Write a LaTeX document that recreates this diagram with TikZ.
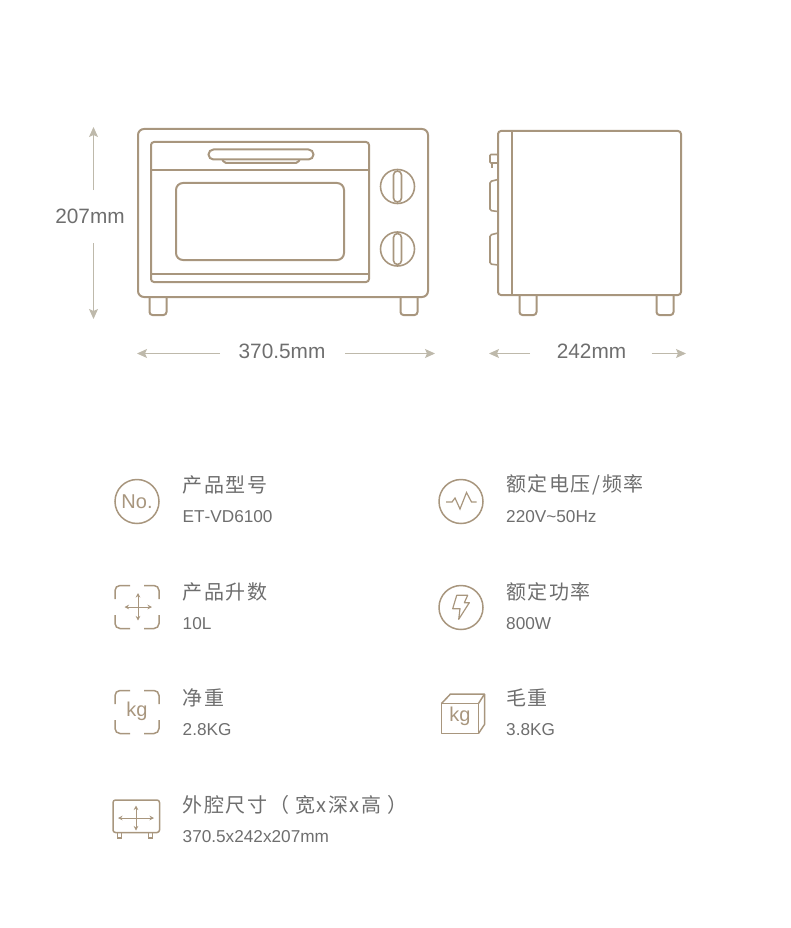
\documentclass[tikz,border=0pt]{standalone}
\usepackage{fontspec}
\setmainfont{Liberation Sans}
\newfontfamily\cjk{Noto Sans CJK SC}
\usetikzlibrary{arrows.meta}
\definecolor{linebrown}{HTML}{A8967E}
\definecolor{dimgray}{HTML}{BEB9AB}
\definecolor{textgray}{HTML}{6E6E6E}

\begin{document}
\begin{tikzpicture}[
  x=1pt,y=-1pt,
  oven/.style={draw=linebrown,line width=2pt},
  icon/.style={draw=linebrown,line width=1.5pt},
  thin icon/.style={draw=linebrown,line width=1pt,{Stealth[length=4.5pt,width=4.5pt]}-{Stealth[length=4.5pt,width=4.5pt]}},
  dim/.style={draw=dimgray,line width=1pt,-{Stealth[length=10pt,width=9pt,inset=2pt]}},
  dim text/.style={text=textgray,font=\fontsize{20.8}{21}\selectfont},
  title/.style={anchor=west,inner sep=0pt,text=textgray,font=\cjk\fontsize{20}{20}\selectfont},
  value/.style={anchor=west,inner sep=0pt,text=textgray,font=\fontsize{17.2}{17}\selectfont},
  icon text/.style={text=linebrown,inner sep=0pt,font=\fontsize{20}{20}\selectfont},
]
  \useasboundingbox (0,0) rectangle (790,928);
  % front of the oven
  \draw [oven,rounded corners=6pt] (138,129) rectangle (428,297);
  \draw [oven,rounded corners=3pt] (151,142) rectangle (369,282);
  \draw [oven] (151,170) -- (369,170);
  \draw [oven] (151,274) -- (369,274);
  \draw [oven,rounded corners=5pt] (208.5,149.5) rectangle (313.5,159.5);
  \draw [oven,rounded corners=2pt] (222.5,159.5) -- (224,163) -- (298,163) -- (299.5,159.5);
  \draw [oven,rounded corners=7pt] (176,183) rectangle (344,260);
  \foreach \y in {186.5,249} {
    \draw [oven,line width=1.6pt] (397.5,\y) circle (17);
    \draw [oven,line width=1.6pt,rounded corners=4pt] (393.5,\y-15.5) rectangle (401.5,\y+15.5);
  }
  \foreach \x in {149.5,400.5} {
    \draw [oven,rounded corners=3pt] (\x,297) -- (\x,315) -- (\x+17,315) -- (\x+17,297);
  }
  % side of the oven
  \draw [oven,rounded corners=3pt] (498,131) rectangle (681,295);
  \draw [oven] (512,131) -- (512,295);
  \draw [oven,line width=1.6pt,rounded corners=1pt] (490,154.5) rectangle (498,163);
  \draw [oven,line width=2.4pt] (492,163) -- (492,168.5);
  \foreach \y in {179.5,233} {
    \draw [oven,line width=1.6pt,rounded corners=1.5pt] (498,\y) -- (490,\y+2) -- (490,\y+31) -- (498,\y+32);
  }
  \foreach \x in {519.5,656.5} {
    \draw [oven,rounded corners=3pt] (\x,295) -- (\x,315) -- (\x+17,315) -- (\x+17,295);
  }
  % dimensions
  \node [dim text] (heightlabel) at (90,216) {207mm};
  \node [dim text] (widthlabel) at (282,351) {370.5mm};
  \node [dim text] (depthlabel) at (591.5,351) {242mm};
  \coordinate (htop) at (93.5,127);
  \coordinate (hmidtop) at (93.5,190);
  \coordinate (hmidbot) at (93.5,243);
  \coordinate (hbot) at (93.5,319);
  \draw [dim] (hmidtop) -- (htop);
  \draw [dim] (hmidbot) -- (hbot);
  \coordinate (wleft) at (137,353.5);
  \coordinate (wmidleft) at (220,353.5);
  \coordinate (wmidright) at (345,353.5);
  \coordinate (wright) at (435,353.5);
  \draw [dim] (wmidleft) -- (wleft);
  \draw [dim] (wmidright) -- (wright);
  \coordinate (dleft) at (489,353.5);
  \coordinate (dmidleft) at (530,353.5);
  \coordinate (dmidright) at (651.5,353.5);
  \coordinate (dright) at (686,353.5);
  \draw [dim] (dmidleft) -- (dleft);
  \draw [dim] (dmidright) -- (dright);
  % model number
  \draw [icon] (137,501.5) circle (22);
  \node [icon text] (nolabel) at (137,501.5) {No.};
  \node [title] (modeltitle) at (182.5,485) {\addfontfeatures{LetterSpace=8}产品型号};
  \node [value] (modelvalue) at (182.5,516.5) {ET{\addfontfeatures{LetterSpace=5}-}VD6100};
  % voltage
  \draw [icon] (461,501.5) circle (22);
  \draw [icon,line width=1.2pt] (446,502) -- (452,502) -- (455,498) -- (460,509) -- (466.5,492.5) -- (471.5,502) -- (476.5,502);
  \node [title] (volttitle) at (506,485) {\addfontfeatures{LetterSpace=8}额定电压/频率};
  \node [value] (voltvalue) at (506,516.5) {220V\char`~50Hz};
  % capacity
  \foreach \sx/\sy in {1/1,-1/1,1/-1,-1/-1} {
    \draw [icon,rounded corners=5pt] (137+\sx*22,607+\sy*8) -- (137+\sx*22,607+\sy*21.5) -- (137+\sx*7,607+\sy*21.5);
  }
  \draw [thin icon] (124.5,607) -- (152,607);
  \draw [thin icon] (138,593) -- (138,620.5);
  \node [title] (captitle) at (182.5,592) {\addfontfeatures{LetterSpace=8}产品升数};
  \node [value] (capvalue) at (182.5,624) {10L};
  % power
  \draw [icon] (461,607.5) circle (22);
  \draw [icon,line width=1.2pt,line join=round] (456.7,595.3) -- (467.7,595.3) -- (464.3,602.7) -- (469.3,602.7) -- (458.7,619.3) -- (460,608.7) -- (452.7,608.7) -- cycle;
  \node [title] (powertitle) at (506,592) {\addfontfeatures{LetterSpace=8}额定功率};
  \node [value] (powervalue) at (506,624) {800W};
  % net weight
  \foreach \sx/\sy in {1/1,-1/1,1/-1,-1/-1} {
    \draw [icon,rounded corners=5pt] (137+\sx*22,712+\sy*8) -- (137+\sx*22,712+\sy*21.5) -- (137+\sx*7,712+\sy*21.5);
  }
  \node [icon text] (netkg) at (137,711) {kg};
  \node [title] (nettitle) at (182.5,698) {\addfontfeatures{LetterSpace=8}净重};
  \node [value] (netvalue) at (182.5,729.5) {2.8KG};
  % gross weight
  \draw [icon,line join=round] (441.5,703.5) rectangle (478.5,733.5);
  \draw [icon,line join=round] (441.5,703.5) -- (450.5,694) -- (484.5,694) -- (484.5,724.5) -- (478.5,733.5);
  \draw [icon] (478.5,703.5) -- (484.5,694);
  \node [icon text] (grosskg) at (460,716.5) {kg};
  \node [title] (grosstitle) at (506,698) {\addfontfeatures{LetterSpace=8}毛重};
  \node [value] (grossvalue) at (506,729.5) {3.8KG};
  % outer size
  \draw [icon,rounded corners=2.5pt] (113,800) rectangle (159.5,832.5);
  \foreach \x in {117.5,148.5} {
    \draw [icon,line width=1.2pt] (\x,832.5) -- (\x,838) -- (\x+4,838) -- (\x+4,832.5);
  }
  \draw [thin icon] (118,818) -- (154,818);
  \draw [thin icon] (136,805.5) -- (136,830.5);
  \node [title] (sizetitle) at (182.5,805) {\addfontfeatures{LetterSpace=8}外腔尺寸（ 宽x深x高 ）};
  \node [value] (sizevalue) at (182.5,837) {370.5x242x207mm};
\end{tikzpicture}
\end{document}
